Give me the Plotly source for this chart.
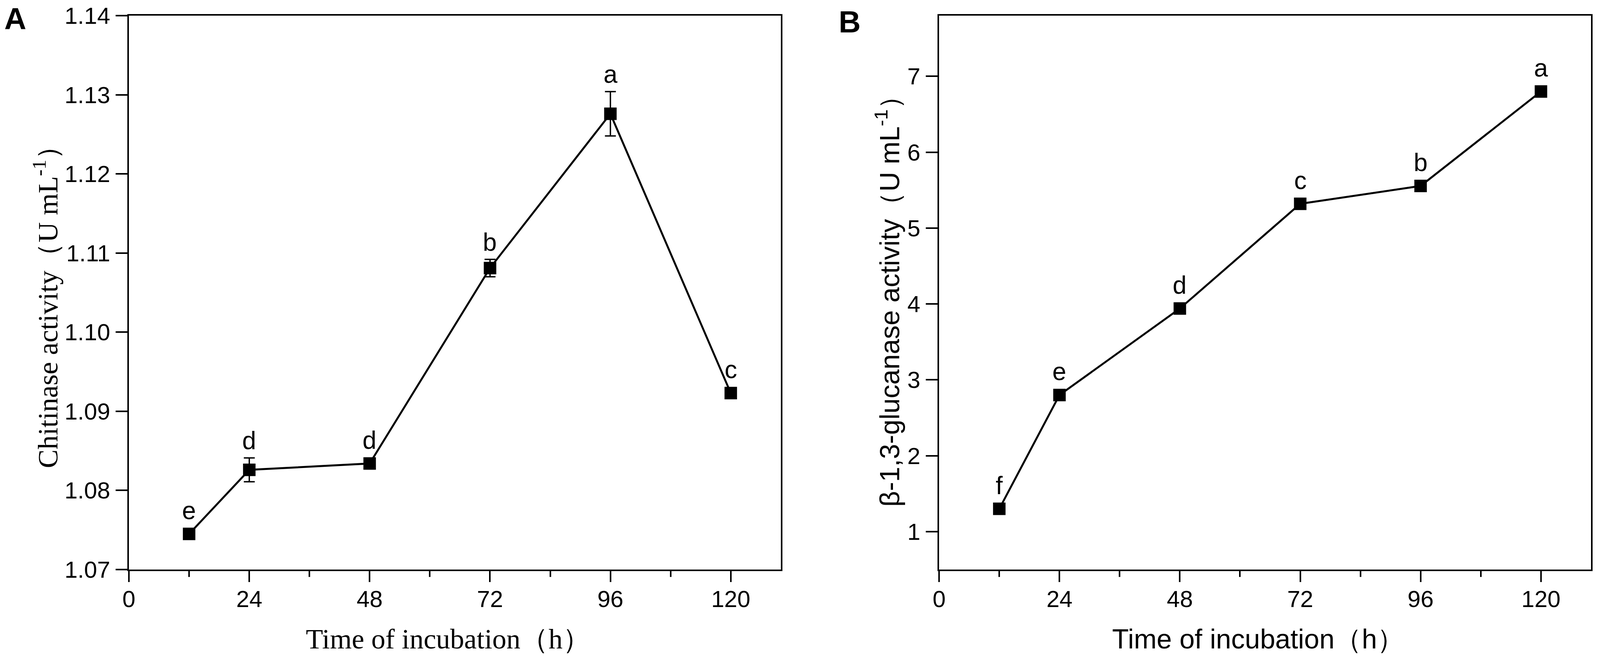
import plotly.graph_objects as go
from plotly.subplots import make_subplots

# Daten
hours = [12, 24, 48, 72, 96, 120]

chitinase = [1.0745, 1.0826, 1.0834, 1.1081, 1.1276, 1.0923]
chitinase_sd = [0.0003, 0.0015, 0.0003, 0.0011, 0.0028, 0.0003]
chitinase_letters = ["e", "d", "d", "b", "a", "c"]

glucanase = [1.30, 2.80, 3.94, 5.32, 5.555, 6.80]
glucanase_letters = ["f", "e", "d", "c", "b", "a"]

x_ticks = [0, 24, 48, 72, 96, 120]
x_minor = [12, 36, 60, 84, 108]

W, H = 4319, 1687
top_px, bottom_px = 40, 1458
SANS = "Liberation Sans, Arial, sans-serif"
SERIF = "Liberation Serif, Times New Roman, serif"

fig = make_subplots(rows=1, cols=2)

fig.add_trace(go.Scatter(
    x=hours, y=chitinase, mode="lines+markers",
    line=dict(color="black", width=5),
    marker=dict(symbol="square", size=32, color="black"),
    error_y=dict(type="data", array=chitinase_sd, visible=True,
                 color="black", thickness=3.5, width=14),
    showlegend=False), row=1, col=1)

fig.add_trace(go.Scatter(
    x=hours, y=glucanase, mode="lines+markers",
    line=dict(color="black", width=5),
    marker=dict(symbol="square", size=32, color="black"),
    showlegend=False), row=1, col=2)

y_dom = [1 - bottom_px / H, 1 - top_px / H]
axis_common = dict(showline=True, linecolor="black", linewidth=4, mirror=True,
                   ticks="outside", tickcolor="black", tickwidth=3.5,
                   showgrid=False, zeroline=False, automargin=False,
                   tickfont=dict(family=SANS, size=60, color="black"))

fig.update_xaxes(**axis_common, range=[0, 130], tickvals=x_ticks, ticklen=28,
                 ticklabelstandoff=-8,
                 minor=dict(tickvals=x_minor, ticklen=15, ticks="outside",
                            tickcolor="black", tickwidth=3.5))
fig.update_yaxes(**axis_common, ticklen=30, ticklabelstandoff=2)

fig.update_layout(
    autosize=True,
    margin=dict(l=0, r=0, t=0, b=0),
    plot_bgcolor="white", paper_bgcolor="white",
    xaxis=dict(domain=[348 / W, 2108 / W]),
    xaxis2=dict(domain=[2535 / W, 4295 / W]),
    yaxis=dict(domain=y_dom, range=[1.07, 1.14], dtick=0.01, tickformat=".2f"),
    yaxis2=dict(domain=y_dom, range=[0.5, 7.8], tickvals=[1, 2, 3, 4, 5, 6, 7]),
)

# Buchstaben über den Punkten
def add_letters(xref, yref, ys, errs, letters, y_range):
    px_per_unit = (bottom_px - top_px) / (y_range[1] - y_range[0])
    for x, y, e, t in zip(hours, ys, errs, letters):
        above = max(e * px_per_unit, 16)
        fig.add_annotation(x=x, y=y, xref=xref, yref=yref, text=t,
                           showarrow=False, xanchor="center", yanchor="bottom",
                           yshift=above + 6,
                           font=dict(family=SANS, size=64, color="black"))

add_letters("x", "y", chitinase, chitinase_sd, chitinase_letters, [1.07, 1.14])
add_letters("x2", "y2", glucanase, [0] * len(glucanase), glucanase_letters, [0.5, 7.8])

def paper_text(px, py, text, font, angle=0):
    fig.add_annotation(x=px / W, y=1 - py / H, xref="paper", yref="paper",
                       text=text, textangle=angle, showarrow=False,
                       xanchor="center", yanchor="middle", font=font)

# Achsentitel
paper_text(1210, 1636, "Time of incubation（h）",
           dict(family=SERIF, size=72, color="black"))
paper_text(124, 768, "Chitinase activity（U mL<sup>-1</sup>）",
           dict(family=SERIF, size=72, color="black"), -90)
paper_text(3396, 1636, "Time of incubation（h）",
           dict(family=SANS, size=70, color="black"))
paper_text(2396, 753, "β-1,3-glucanase activity（U mL<sup>-1</sup>）",
           dict(family=SANS, size=70, color="black"), -90)

# Panelbuchstaben
paper_text(41, 48, "<b>A</b>", dict(family=SANS, size=78, color="black"))
paper_text(2293, 56, "<b>B</b>", dict(family=SANS, size=78, color="black"))

# Figur füllt das Fenster (fixiert, damit kein Rand/Scrollbalken stört)
fig.write_html("out.html", config={"displayModeBar": False},
               default_width="100vw",
               default_height="100vh; position:fixed; top:0; left:0")
